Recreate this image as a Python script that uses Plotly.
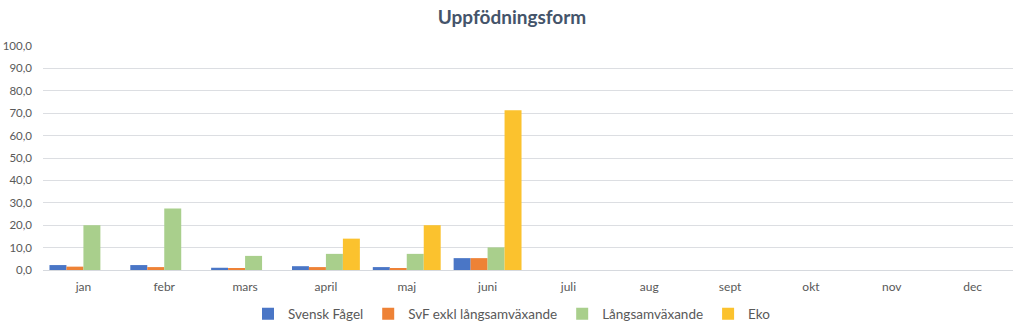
import plotly.graph_objects as go

# Months on the category axis
months = ["jan", "febr", "mars", "april", "maj", "juni",
          "juli", "aug", "sept", "okt", "nov", "dec"]

# Share per rearing form (%), only Jan-Jun reported
svensk_fagel = [2.2, 2.2, 1.0, 1.7, 1.3, 5.3, None, None, None, None, None, None]
svf_exkl = [1.5, 1.3, 0.7, 1.3, 0.9, 5.3, None, None, None, None, None, None]
langsam = [20.0, 27.5, 6.3, 7.2, 7.2, 10.1, None, None, None, None, None, None]
eko = [None, None, None, 14.0, 20.0, 71.3, None, None, None, None, None, None]

series = [
    ("Svensk Fågel", svensk_fagel, "#4a76c6"),
    ("SvF exkl långsamväxande", svf_exkl, "#ee8236"),
    ("Långsamväxande", langsam, "#a9cf8c"),
    ("Eko", eko, "#fbc22e"),
]

fig = go.Figure()
for name, vals, color in series:
    fig.add_trace(go.Bar(
        x=months, y=vals, name=name,
        marker=dict(color=color, line=dict(width=0)),
    ))

font_family = "Lato, 'Open Sans', sans-serif"

fig.update_layout(
    width=1024, height=333,
    margin=dict(l=43, r=11, t=46, b=63),
    paper_bgcolor="white", plot_bgcolor="white",
    separators=",.",
    barmode="group", bargap=0.16, bargroupgap=0,
    title=dict(
        text="<b>Uppfödningsform</b>",
        x=0.5, xref="container", xanchor="center",
        y=1 - 17 / 333, yref="container", yanchor="middle",
        font=dict(family=font_family, size=19, color="#44546a"),
    ),
    font=dict(family=font_family, size=12, color="#595959"),
    legend=dict(
        orientation="h",
        x=0.5, xref="container", xanchor="center",
        y=1 - 314 / 333, yref="container", yanchor="middle",
        font=dict(family=font_family, size=13.5, color="#595959"),
        itemwidth=30,
        traceorder="normal",
    ),
    xaxis=dict(
        automargin=False,
        showgrid=False, showline=False, ticks="",
        tickfont=dict(size=12, color="#595959"),
        ticklabelstandoff=8,
    ),
    yaxis=dict(
        automargin=False,
        range=[0, 100], dtick=10, tickformat=".1f",
        showgrid=True, gridcolor="#dcdee2", gridwidth=1,
        zeroline=True, zerolinecolor="#d6d9de", zerolinewidth=1,
        showline=False, ticks="",
        tickfont=dict(size=11.5, color="#595959"),
        ticklabelstandoff=10,
    ),
)

fig.write_html("out.html")
